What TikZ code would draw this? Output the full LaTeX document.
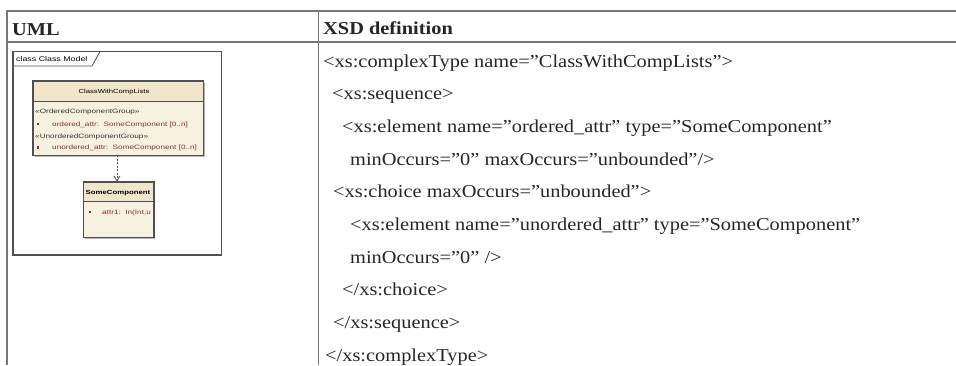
\documentclass[tikz,border=0pt]{standalone}
\usepackage{fontspec}
\setmainfont[FakeStretch=1.12]{Liberation Serif}
\newfontfamily\umlfont[FakeStretch=1.3]{Liberation Sans}
\usetikzlibrary{arrows.meta,shadows}
\definecolor{rule}{HTML}{777777}
\definecolor{cream}{HTML}{F7F1DF}
\definecolor{creamtop}{HTML}{EFE6CC}
\definecolor{attrred}{HTML}{8A2E33}
\definecolor{umlline}{HTML}{505050}
\tikzset{
  tablerule/.style={draw=rule, line width=2.4pt},
  tablesep/.style={draw=rule, line width=1.6pt},
  codeline/.style={anchor=base west, inner sep=0pt, text=black!85, font=\fontsize{18.2}{20}\selectfont},
  headtext/.style={anchor=base west, inner sep=0pt, text=black!85, font=\fontsize{18.2}{20}\selectfont\bfseries},
  umlbox/.style={draw=umlline, line width=0.9pt, fill=cream, inner sep=0pt,
    drop shadow={shadow xshift=1.6pt, shadow yshift=-1.6pt, fill=black!35, opacity=0.8}},
  umltext/.style={inner sep=0pt, anchor=base west, font=\umlfont\fontsize{6.3}{7}\selectfont},
  bullet/.style={fill=attrred, inner sep=0pt, minimum size=2.2pt},
  depend/.style={draw=umlline, line width=0.7pt, dash pattern=on 2pt off 1.5pt,
    -{Straight Barb[open, length=5pt, width=6pt, line width=0.8pt]}}
}
\begin{document}
\begin{tikzpicture}[x=1pt,y=-1pt]
\useasboundingbox (0,0) rectangle (956,365);
\fill[white] (0,0) rectangle (956,365);
% table rules
\draw[tablerule] (6,11) -- (956,11);
\draw[tablerule] (6,42) -- (956,42);
\draw[tablesep] (7,10) -- (7,365);
\draw[tablesep] (318.5,10) -- (318.5,365);
% headers
\node[headtext] (hUML) at (12,35) {UML};
\node[headtext] (hXSD) at (323,34.5) {XSD definition};
% code lines
\node[codeline] (l1) at (323,67) {<xs:complexType name="ClassWithCompLists">};
\node[codeline] (l2) at (332,99.7) {<xs:sequence>};
\node[codeline] (l3) at (342,132.4) {<xs:element name="ordered\_attr" type="SomeComponent"};
\node[codeline] (l4) at (350,165) {minOccurs="0" maxOccurs="unbounded"/>};
\node[codeline] (l5) at (333,197.8) {<xs:choice maxOccurs="unbounded">};
\node[codeline] (l6) at (350,230.5) {<xs:element name="unordered\_attr" type="SomeComponent"};
\node[codeline] (l7) at (350,263.2) {minOccurs="0" />};
\node[codeline] (l8) at (342,295.9) {</xs:choice>};
\node[codeline] (l9) at (333,328.6) {</xs:sequence>};
\node[codeline] (l10) at (325,361.3) {</xs:complexType>};
% UML frame
\draw[draw=umlline, line width=1.4pt] (13,51.5) rectangle (221.5,255);
\draw[draw=umlline, line width=0.8pt] (13,66) -- (92,66) -- (100,51.5);
\node[umltext, font=\umlfont\fontsize{6.8}{7}\selectfont] (frm) at (16,61.8) {class Class Model};
% class ClassWithCompLists
\node[umlbox, minimum width=170pt, minimum height=74pt] (cls) at (118,118) {};
\fill[creamtop] (33.5,81.5) rectangle (202.5,101);
\draw[umlline, line width=0.9pt] (cls.north west) rectangle (cls.south east);
\draw[umlline, line width=0.7pt] (33,101) -- (203,101);
\node[inner sep=0pt, font=\umlfont\fontsize{5.9}{7}\selectfont] (clsname) at (114,91.5) {ClassWithCompLists};
\node[umltext, text=black!80] (st1) at (35,113.5) {«OrderedComponentGroup»};
\node[bullet] (b1) at (38,124) {};
\node[umltext, text=attrred] (a1) at (52,126) {ordered\_attr:\ \ SomeComponent [0..n]};
\node[umltext, text=black!80] (st2) at (35,138.5) {«UnorderedComponentGroup»};
\node[bullet] (b2) at (38,147.5) {};
\node[umltext, text=attrred] (a2) at (52,149.5) {unordered\_attr:\ \ SomeComponent [0..n]};
% class SomeComponent
\node[umlbox, minimum width=70pt, minimum height=55pt] (sc) at (118.5,209.5) {};
\fill[creamtop] (84,182.5) rectangle (153,201);
\draw[umlline, line width=0.9pt] (sc.north west) rectangle (sc.south east);
\draw[umlline, line width=0.7pt] (83.5,201) -- (153.5,201);
\node[inner sep=0pt, font=\umlfont\fontsize{6.0}{7}\selectfont\bfseries] (scname) at (118,193) {SomeComponent};
\node[bullet] (b3) at (90,212) {};
\node[umltext, text=attrred] (a3) at (102,214) {attr1:\ \ In(Int,u};
% dependency
\draw[depend] ([xshift=-1pt]cls.south) -- ([xshift=-1.5pt]sc.north);
\end{tikzpicture}
\end{document}
